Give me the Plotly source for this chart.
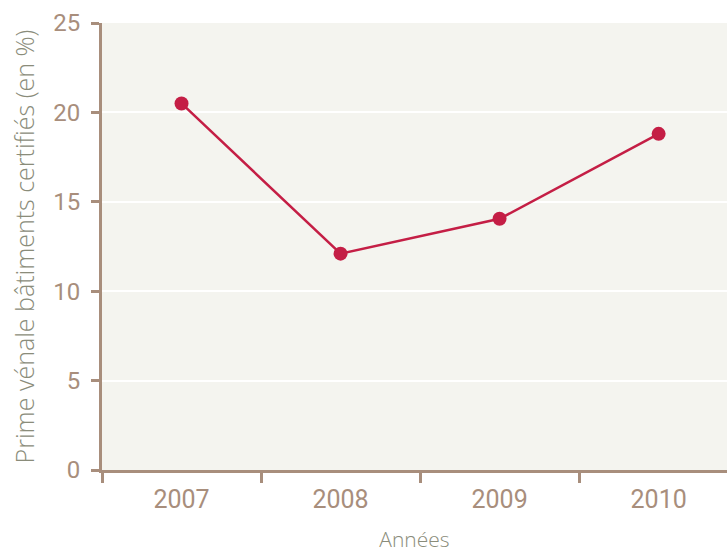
import plotly.graph_objects as go

years = ["2007", "2008", "2009", "2010"]
prime = [20.5, 12.1, 14.05, 18.8]
y_ticks = [0, 5, 10, 15, 20, 25]

axis_col = "#a88e7c"
label_col = "#a88e7c"
title_col = "#8a8c7a"
line_col = "#c41e45"

fig = go.Figure()
fig.add_trace(go.Scatter(
    x=years, y=prime, mode="lines+markers",
    line=dict(color=line_col, width=2.5),
    marker=dict(color=line_col, size=14),
    showlegend=False,
))

fig.update_layout(
    width=727, height=554,
    margin=dict(l=102, r=0, t=23, b=84),
    paper_bgcolor="white",
    plot_bgcolor="#f4f4ef",
    font=dict(family="Roboto", color=label_col),
    xaxis=dict(
        type="category",
        range=[-0.5, 3.43],
        tickson="boundaries",
        ticks="outside", ticklen=10, tickwidth=3, tickcolor=axis_col,
        showline=True, linecolor=axis_col, linewidth=3,
        showgrid=False, zeroline=False,
        tickfont=dict(size=25, color=label_col),
        ticklabelstandoff=5,
        title=dict(text="Années",
                   font=dict(family="Open Sans", size=21, color=title_col, weight=300),
                   standoff=20),
    ),
    yaxis=dict(
        range=[0, 25],
        tickvals=y_ticks,
        ticks="outside", ticklen=8, tickwidth=3, tickcolor=axis_col,
        showline=True, linecolor=axis_col, linewidth=3,
        showgrid=True, gridcolor="white", gridwidth=2,
        zeroline=False,
        tickfont=dict(size=24, color=label_col),
        ticklabelstandoff=6,
        title=dict(text="Prime vénale bâtiments certifiés (en %)",
                   font=dict(family="Open Sans", size=25, color=title_col, weight=300),
                   standoff=12),
    ),
)

fig.write_html("out.html")
